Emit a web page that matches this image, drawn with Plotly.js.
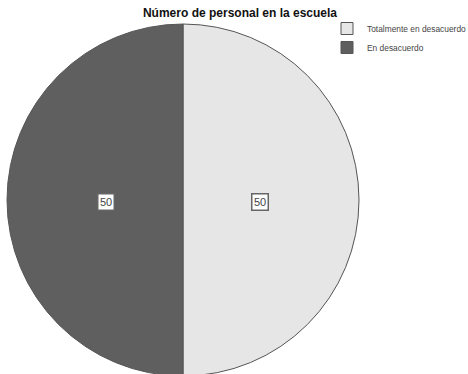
<!DOCTYPE html>
<html><head><meta charset="utf-8">
<script src="https://cdn.plot.ly/plotly-3.0.1.min.js"></script>
<style>body{margin:0;padding:0;overflow:hidden;background:#fff}</style>
</head><body><div id="chart"></div>
<script>
const categories = ["Totalmente en desacuerdo", "En desacuerdo"];
const values = [50, 50];
const sliceColors = ["#e6e6e6", "#5f5f5f"];

const W = 468, H = 378;
const cx = 183, cyTop = 200, R = 176;
const dx = [(cx - R) / W, (cx + R) / W];
const cyB = H - cyTop;
const dy = [(cyB - R) / H, (cyB + R) / H];

// label boxes placed at slice mid-angles (computed from data)
const total = values.reduce((a, b) => a + b, 0);
const annotations = [];
let cum = 0;
const pcx = (dx[0] + dx[1]) / 2, pcy = (dy[0] + dy[1]) / 2;
values.forEach((v, i) => {
  const mid = (cum + v / 2) / total * 2 * Math.PI; cum += v;
  const rr = 0.437 * R;
  annotations.push({
    xref: 'paper', yref: 'paper', xanchor: 'center', yanchor: 'middle',
    x: pcx + rr * Math.sin(mid) / W,
    y: pcy + rr * Math.cos(mid) / H - 2 / H,
    text: String(v), showarrow: false,
    font: {family: 'Arial, Liberation Sans', size: 11, color: '#444'},
    bgcolor: '#ffffff', bordercolor: '#666', borderwidth: 1.5, borderpad: 1.5
  });
});

const data = [{
  type: 'pie', labels: categories, values: values, sort: false,
  direction: 'clockwise', rotation: 0,
  marker: {colors: sliceColors, line: {color: '#555555', width: 1}},
  textinfo: 'none', hoverinfo: 'label+value',
  domain: {x: dx, y: dy}
}];

const layout = {
  width: W, height: H,
  margin: {l: 0, r: 0, t: 0, b: 0, autoexpand: false},
  paper_bgcolor: '#fff',
  title: {text: '<b>Número de personal en la escuela</b>', x: 240 / W, xanchor: 'center', y: 1 - 13 / H, yanchor: 'middle',
    font: {family: 'Arial, Liberation Sans', size: 12, color: '#111'}},
  showlegend: true,
  legend: {x: 327 / W, xanchor: 'left', y: 1 - 14 / H, yanchor: 'top',
    font: {family: 'Arial, Liberation Sans', size: 8.4, color: '#444'},
    itemwidth: 30, tracegroupgap: 0, bgcolor: 'rgba(0,0,0,0)'},
  annotations: annotations
};
Plotly.newPlot('chart', data, layout, {displayModeBar: false, staticPlot: true});
</script></body></html>
